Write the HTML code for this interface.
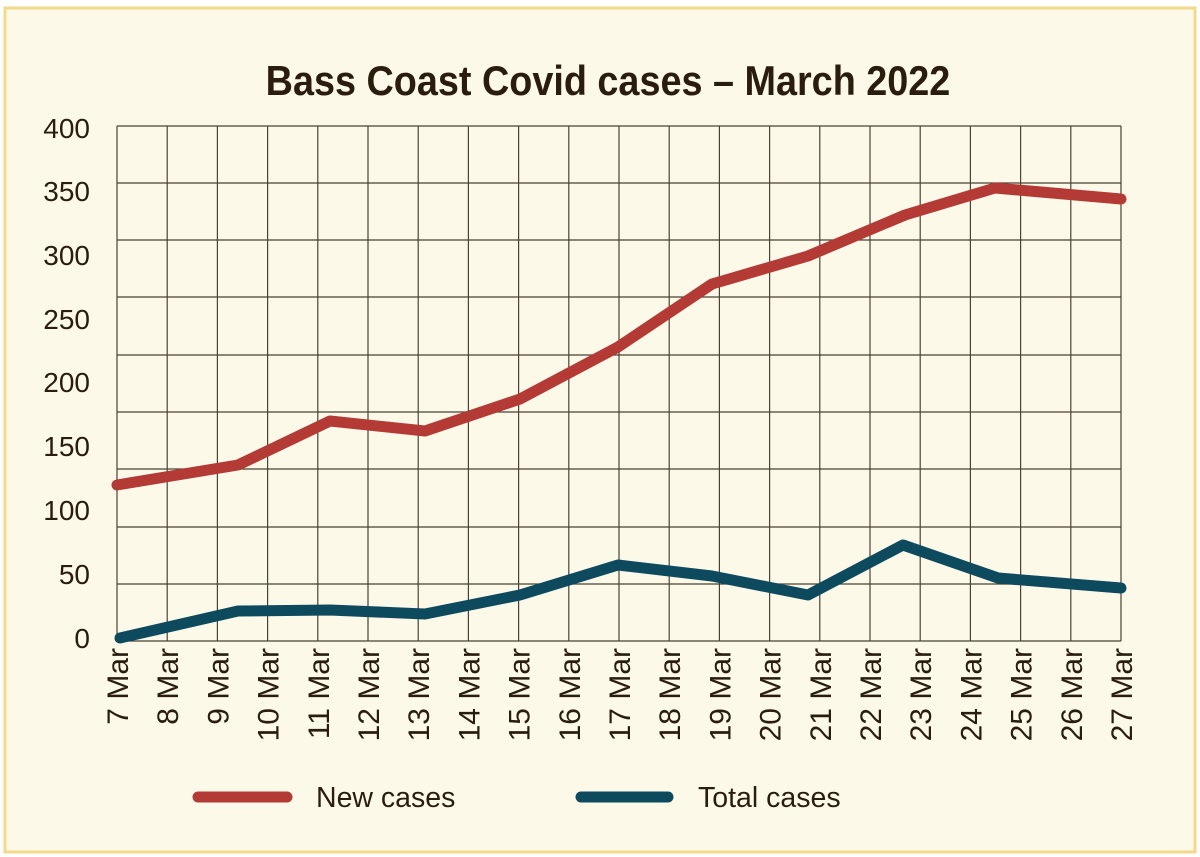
<!DOCTYPE html>
<html><head><meta charset="utf-8"><style>
html,body{margin:0;padding:0;background:#fff;}
svg{display:block;font-family:"Liberation Sans",sans-serif;}
</style></head><body>
<svg width="1200" height="857" viewBox="0 0 1200 857">
<rect x="5" y="8" width="1190" height="844" fill="#fdf9e9" stroke="#f3d98a" stroke-width="3"/>
<text x="608" y="95" text-anchor="middle" font-size="42" font-weight="bold" fill="#2b1d0e" transform="translate(608 0) scale(0.9 1) translate(-608 0)">Bass Coast Covid cases – March 2022</text>
<g stroke="#4a4236" stroke-width="1.2">
<line x1="117" y1="126" x2="1121" y2="126"/><line x1="117" y1="183" x2="1121" y2="183"/>
<line x1="117" y1="240" x2="1121" y2="240"/><line x1="117" y1="297" x2="1121" y2="297"/>
<line x1="117" y1="355" x2="1121" y2="355"/><line x1="117" y1="412" x2="1121" y2="412"/>
<line x1="117" y1="469" x2="1121" y2="469"/><line x1="117" y1="527" x2="1121" y2="527"/>
<line x1="117" y1="584" x2="1121" y2="584"/><line x1="117" y1="641" x2="1121" y2="641"/>
<line x1="117.0" y1="126" x2="117.0" y2="641"/><line x1="167.2" y1="126" x2="167.2" y2="641"/><line x1="217.4" y1="126" x2="217.4" y2="641"/><line x1="267.6" y1="126" x2="267.6" y2="641"/><line x1="317.8" y1="126" x2="317.8" y2="641"/><line x1="368.0" y1="126" x2="368.0" y2="641"/><line x1="418.2" y1="126" x2="418.2" y2="641"/><line x1="468.4" y1="126" x2="468.4" y2="641"/><line x1="518.6" y1="126" x2="518.6" y2="641"/><line x1="568.8" y1="126" x2="568.8" y2="641"/><line x1="619.0" y1="126" x2="619.0" y2="641"/><line x1="669.2" y1="126" x2="669.2" y2="641"/><line x1="719.4" y1="126" x2="719.4" y2="641"/><line x1="769.6" y1="126" x2="769.6" y2="641"/><line x1="819.8" y1="126" x2="819.8" y2="641"/><line x1="870.0" y1="126" x2="870.0" y2="641"/><line x1="920.2" y1="126" x2="920.2" y2="641"/><line x1="970.4" y1="126" x2="970.4" y2="641"/><line x1="1020.6" y1="126" x2="1020.6" y2="641"/><line x1="1070.8" y1="126" x2="1070.8" y2="641"/><line x1="1121.0" y1="126" x2="1121.0" y2="641"/>
</g>
<g font-size="28" fill="#2b1d0e" text-anchor="end">
<text x="90" y="138">400</text><text x="90" y="201">350</text><text x="90" y="265">300</text>
<text x="90" y="329">250</text><text x="90" y="392">200</text><text x="90" y="456">150</text>
<text x="90" y="520">100</text><text x="90" y="584">50</text><text x="90" y="648">0</text>
</g>
<g font-size="30" fill="#2b1d0e" text-anchor="end">
<text transform="translate(128 648) rotate(-90)">7 Mar</text>
<text transform="translate(178.2 648) rotate(-90)">8 Mar</text>
<text transform="translate(228.4 648) rotate(-90)">9 Mar</text>
<text transform="translate(278.6 648) rotate(-90)">10 Mar</text>
<text transform="translate(328.8 648) rotate(-90)">11 Mar</text>
<text transform="translate(379 648) rotate(-90)">12 Mar</text>
<text transform="translate(429.2 648) rotate(-90)">13 Mar</text>
<text transform="translate(479.4 648) rotate(-90)">14 Mar</text>
<text transform="translate(529.6 648) rotate(-90)">15 Mar</text>
<text transform="translate(579.8 648) rotate(-90)">16 Mar</text>
<text transform="translate(630 648) rotate(-90)">17 Mar</text>
<text transform="translate(680.2 648) rotate(-90)">18 Mar</text>
<text transform="translate(730.4 648) rotate(-90)">19 Mar</text>
<text transform="translate(780.6 648) rotate(-90)">20 Mar</text>
<text transform="translate(830.8 648) rotate(-90)">21 Mar</text>
<text transform="translate(881 648) rotate(-90)">22 Mar</text>
<text transform="translate(931.2 648) rotate(-90)">23 Mar</text>
<text transform="translate(981.4 648) rotate(-90)">24 Mar</text>
<text transform="translate(1031.6 648) rotate(-90)">25 Mar</text>
<text transform="translate(1081.8 648) rotate(-90)">26 Mar</text>
<text transform="translate(1132 648) rotate(-90)">27 Mar</text>
</g>
<polyline fill="none" stroke="#b43a35" stroke-width="11" stroke-linecap="round" stroke-linejoin="round" points="117,485 238,465 330,421 425,431 520,399 618,347 712,284 808,256 905,215 995,188 1121,199"/>
<polyline fill="none" stroke="#0d4a5e" stroke-width="11" stroke-linecap="round" stroke-linejoin="round" points="120,638 238,611 330,610 425,614 520,595 618,565 712,576 808,595 903,545 998,578 1121,588"/>
<line x1="198" y1="797" x2="287" y2="797" stroke="#b43a35" stroke-width="11" stroke-linecap="round"/>
<text x="316" y="807" font-size="28.5" fill="#2b1d0e">New cases</text>
<line x1="581" y1="797" x2="668" y2="797" stroke="#0d4a5e" stroke-width="11" stroke-linecap="round"/>
<text x="698" y="807" font-size="28.5" fill="#2b1d0e">Total cases</text>
</svg>
</body></html>
